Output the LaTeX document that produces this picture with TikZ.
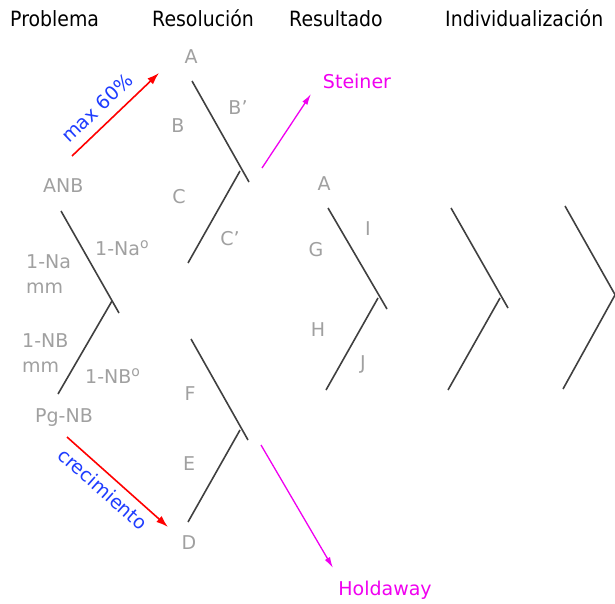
\documentclass[tikz,border=0pt]{standalone}
\usepackage{fontspec}
\setmainfont{DejaVu Sans}
\newfontfamily\headfont{DejaVu Sans}[FakeStretch=0.9]
\usetikzlibrary{arrows.meta}
\definecolor{lblgray}{RGB}{160,160,160}
\definecolor{linegray}{RGB}{64,64,64}
\definecolor{mag}{RGB}{240,0,240}
\definecolor{myblue}{RGB}{30,60,255}
\definecolor{myred}{RGB}{255,0,0}
\newcommand\ordo{\raisebox{6.5pt}{\fontsize{14}{14}\selectfont o}}
\tikzset{
  head/.style={anchor=base west, inner sep=0pt, text=black, font=\headfont\fontsize{21}{25}\selectfont},
  lbl/.style={inner sep=0pt, text=lblgray, font=\fontsize{19}{25}\selectfont},
  chev/.style={draw=linegray, line width=1.6pt},
  redarrow/.style={draw=myred, line width=1.6pt, -{Latex[length=12pt,width=8pt]}},
  magarrow/.style={draw=mag, line width=1.3pt, -{Latex[length=11pt,width=6pt]}},
  bluetxt/.style={inner sep=0pt, text=myblue, font=\fontsize{19}{25}\selectfont},
  magtxt/.style={inner sep=0pt, text=mag, font=\fontsize{19}{25}\selectfont},
}
\begin{document}
\begin{tikzpicture}[x=1pt,y=-1pt]
\useasboundingbox (0,0) rectangle (615,604);
\clip (0,0) rectangle (615,604);
% headers
\node[head] (hP) at (10,27) {Problema};
\node[head] (hR) at (152,27) {Resolución};
\node[head] (hS) at (289,27) {Resultado};
\node[head] (hI) at (445,27) {Individualización};
% chevrons: upper start, upper end, junction, lower end
\coordinate (p1) at (61,211); \coordinate (p2) at (119,313); \coordinate (pj) at (112,301); \coordinate (pl) at (58,394);
\coordinate (r1) at (192,81); \coordinate (r2) at (249,182); \coordinate (rj) at (240,171); \coordinate (rl) at (188,263);
\coordinate (s1) at (191,339); \coordinate (s2) at (248,440); \coordinate (sj) at (240,430); \coordinate (sl) at (188,522);
\coordinate (t1) at (328,208); \coordinate (t2) at (387,309); \coordinate (tj) at (378,298); \coordinate (tl) at (326,390);
\coordinate (u1) at (451,208); \coordinate (u2) at (508,308); \coordinate (uj) at (500,298); \coordinate (ul) at (448,390);
\coordinate (v1) at (565,206); \coordinate (v2) at (622,307); \coordinate (vj) at (615,295); \coordinate (vl) at (563,389);
\foreach \c in {p,r,s,t,u,v}{
  \draw[chev] (\c1) -- (\c2);
  \draw[chev] (\c j) -- (\c l);
}
% labels problem
\node[lbl, anchor=base west] (anb) at (43,192) {ANB};
\node[lbl, anchor=base west] (nao) at (95,255) {1-Na\ordo};
\node[lbl, anchor=north west, align=left] (namm) at (26,254) {1-Na\\mm};
\node[lbl, anchor=north west, align=left] (nbmm) at (22,333) {1-NB\\mm};
\node[lbl, anchor=base west] (nbo) at (85,383) {1-NB\ordo};
\node[lbl, anchor=base west] (pgnb) at (35,422) {Pg-NB};
% labels resolution
\node[lbl] (lA) at (191,57) {A};
\node[lbl] (lB) at (178,126) {B};
\node[lbl] (lBp) at (238,108) {B’};
\node[lbl] (lC) at (179,197) {C};
\node[lbl] (lCp) at (230,239) {C’};
\node[lbl] (lF) at (190,394) {F};
\node[lbl] (lE) at (189,464) {E};
\node[lbl] (lD) at (189,543) {D};
% labels result
\node[lbl] (mA) at (324,184) {A};
\node[lbl] (mI) at (368,229) {I};
\node[lbl] (mG) at (316,250) {G};
\node[lbl] (mH) at (318,330) {H};
\node[lbl] (mJ) at (363,364) {J};
% arrows
\coordinate (a1) at (72,156); \coordinate (a2) at (159,73);
\draw[redarrow] (a1) -- (a2);
\node[bluetxt, rotate=43.6] (max) at (97,108) {max 60\%};
\coordinate (b1) at (67,437); \coordinate (b2) at (168,527);
\draw[redarrow] (b1) -- (b2);
\node[bluetxt, rotate=-41.7] (crec) at (103,489) {crecimiento};
\coordinate (c1) at (262,168); \coordinate (c2) at (311,94);
\draw[magarrow] (c1) -- (c2);
\node[magtxt] (stein) at (357,81) {Steiner};
\coordinate (d1) at (261,445); \coordinate (d2) at (333,568);
\draw[magarrow] (d1) -- (d2);
\node[magtxt] (hold) at (385,590) {Holdaway};
\end{tikzpicture}
\end{document}
